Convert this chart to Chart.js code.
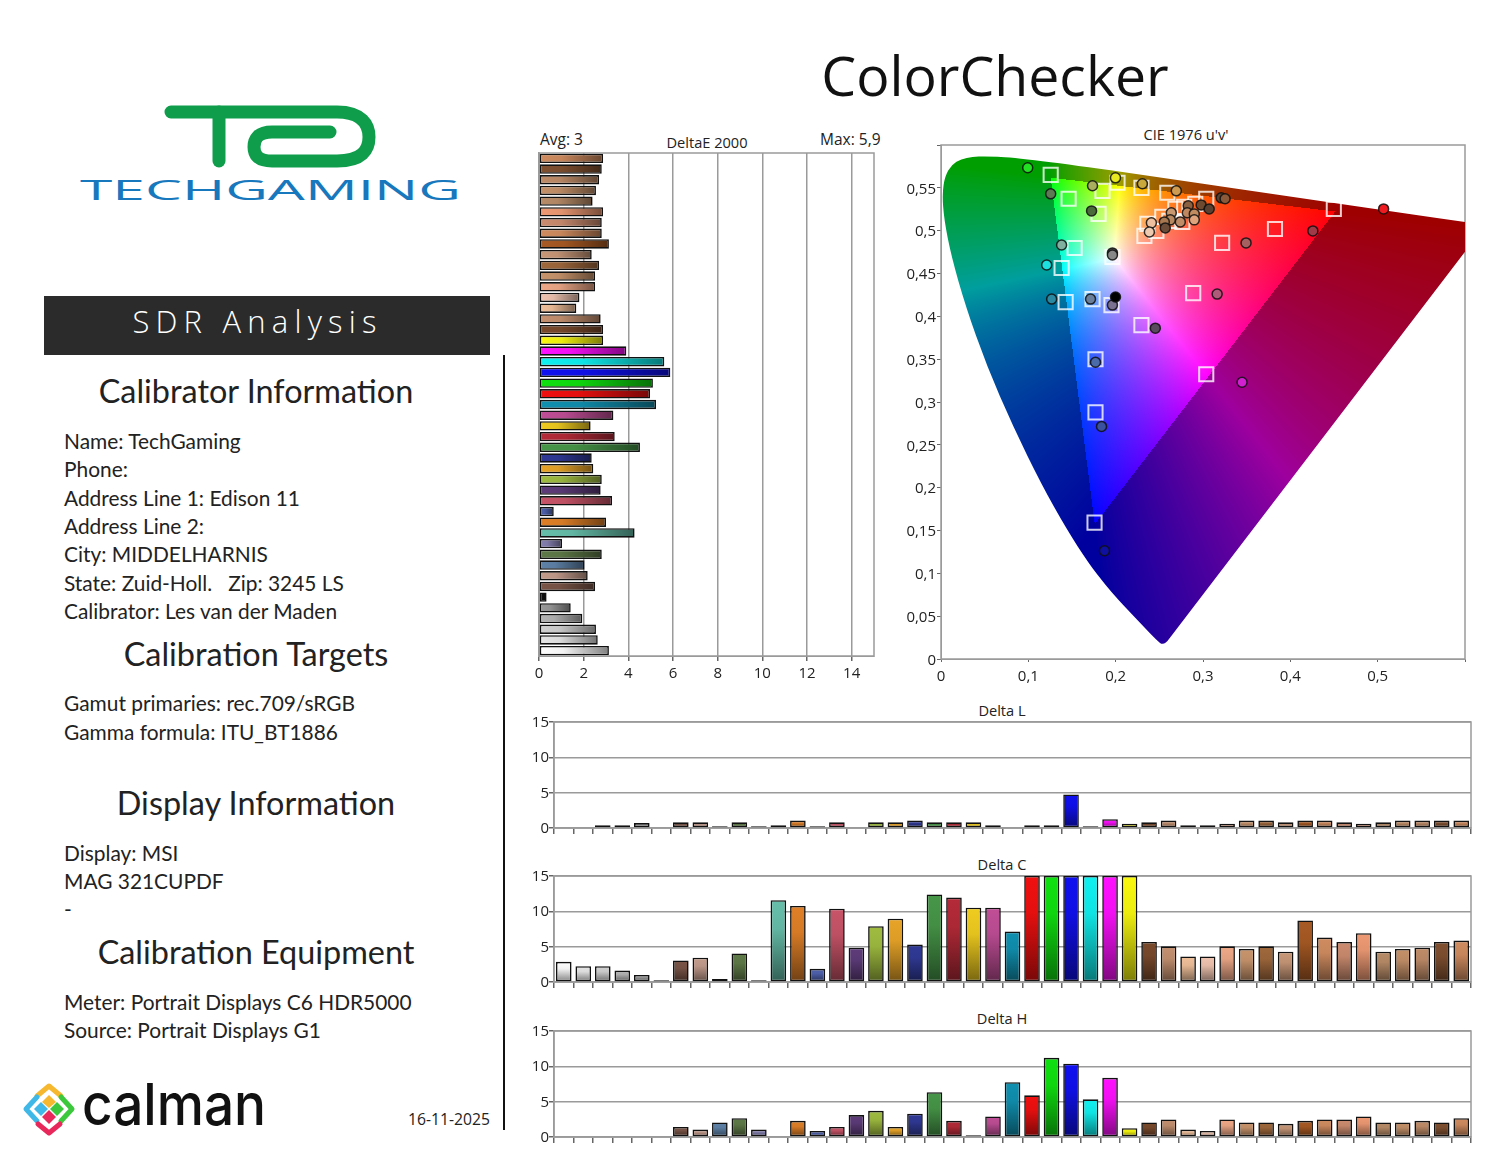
<!DOCTYPE html>
<html>
<head>
  <title>ColorChecker</title>
  <script src="https://cdn.jsdelivr.net/npm/chart.js"></script>
  <style>
    body { margin: 0; background: #fff; }
    #page { position: relative; width: 1500px; height: 1159px; overflow: hidden; color: #222; font-family: 'Open Sans', sans-serif; }
    #page canvas, #page svg { position: absolute; }
    .main { position: absolute; left: 695px; width: 600px; top: 35px; line-height: 80px; text-align: center; font-size: 55.4px; color: #111; }
    .banner { position: absolute; left: 44px; top: 296px; width: 446px; height: 59px; line-height: 51px; background: #2b2b2b; color: #fff; text-align: center; font-size: 31px; font-weight: 300; letter-spacing: 6.2px; text-indent: -19px; }
    .rule { position: absolute; left: 503px; top: 355px; width: 2px; height: 775px; background: #111; }
    .h { position: absolute; left: 0; width: 512px; text-align: center; line-height: 40px; font-family: Lato, sans-serif; font-size: 32.4px; }
    .t { position: absolute; left: 64px; line-height: 28px; font-family: Lato, sans-serif; font-size: 20.9px; white-space: pre; }
    .s { position: absolute; line-height: 20px; font-size: 15.5px; white-space: pre; }
    .ct { position: absolute; width: 200px; line-height: 20px; text-align: center; font-size: 14.6px; }
  </style>
</head>
<body>
<div id="page">
  <div class="main">ColorChecker</div>

  <svg style="left:0;top:90px" width="500" height="125" viewBox="0 90 500 125">
    <g fill="none" stroke="#0f9d4c" stroke-width="13" stroke-linecap="round">
      <path d="M171 112 H337 C362 112 369 125 369 137 C369 150 362 161 337 161 H272 C258 161 254 155 254 147 C254 139 258 132 272 132 H330"/>
      <path d="M219 112 V161"/>
    </g>
    <text x="80" y="200" textLength="381" lengthAdjust="spacingAndGlyphs" font-family="Open Sans" font-size="28" font-weight="500" fill="#1878bd">TECHGAMING</text>
  </svg>

  <div class="banner">SDR Analysis</div>
  <div class="rule"></div>

  <div class="h" style="top:371px">Calibrator Information</div>
  <div class="t" style="top:427px">Name: TechGaming</div>
  <div class="t" style="top:455px">Phone:</div>
  <div class="t" style="top:484px">Address Line 1: Edison 11</div>
  <div class="t" style="top:512px">Address Line 2:</div>
  <div class="t" style="top:540px">City: MIDDELHARNIS</div>
  <div class="t" style="top:569px">State: Zuid-Holl.   Zip: 3245 LS</div>
  <div class="t" style="top:597px">Calibrator: Les van der Maden</div>

  <div class="h" style="top:634px">Calibration Targets</div>
  <div class="t" style="top:689px">Gamut primaries: rec.709/sRGB</div>
  <div class="t" style="top:718px">Gamma formula: ITU_BT1886</div>

  <div class="h" style="top:783px">Display Information</div>
  <div class="t" style="top:839px">Display: MSI</div>
  <div class="t" style="top:867px">MAG 321CUPDF</div>
  <div class="t" style="top:895px">-</div>

  <div class="h" style="top:932px">Calibration Equipment</div>
  <div class="t" style="top:988px">Meter: Portrait Displays C6 HDR5000</div>
  <div class="t" style="top:1016px">Source: Portrait Displays G1</div>

  <svg style="left:20px;top:1080px" width="260" height="60" viewBox="20 1080 260 60">
    <g fill="none" stroke-width="5" stroke-linejoin="round" stroke-linecap="round">
      <path d="M37 1096 L49 1086 L61 1096" stroke="#f5b82e"/>
      <path d="M37 1097 L26 1109 L37 1121" stroke="#3fb8e8"/>
      <path d="M61 1097 L72 1109 L61 1121" stroke="#3cc83c"/>
      <path d="M38 1124 L49 1133 L60 1124" stroke="#e8285a"/>
    </g>
    <path d="M49 1095 L56 1102 L49 1108 L42 1102 Z" fill="#f5b82e"/>
    <path d="M41 1102 L48 1109 L41 1116 L34 1109 Z" fill="#3fb8e8"/>
    <path d="M57 1102 L64 1109 L57 1116 L50 1109 Z" fill="#3cc83c"/>
    <path d="M49 1110 L56 1117 L49 1124 L42 1117 Z" fill="#e8285a"/>
    <text x="82" y="1125" textLength="184" lengthAdjust="spacingAndGlyphs" font-family="Inter" font-size="58" font-weight="500" fill="#111">calman</text>
  </svg>
  <div class="s" style="left:408px;top:1109px;font-size:15.7px">16-11-2025</div>

  <div class="s" style="left:540px;top:129px">Avg: 3</div>
  <div class="s" style="left:820px;top:129px">Max: 5,9</div>
  <div class="ct" style="left:607px;top:132px">DeltaE 2000</div>
  <div class="ct" style="left:1086px;top:124px">CIE 1976 u'v'</div>
  <div class="ct" style="left:902px;top:700px">Delta L</div>
  <div class="ct" style="left:902px;top:854px">Delta C</div>
  <div class="ct" style="left:902px;top:1008px">Delta H</div>

  <canvas id="deltaE" width="374" height="553" style="left:520px;top:133px"></canvas>
  <canvas id="cie" width="582" height="564" style="left:895px;top:125px"></canvas>
  <canvas id="deltaL" width="964" height="136" style="left:520px;top:702px"></canvas>
  <canvas id="deltaC" width="964" height="136" style="left:520px;top:856px"></canvas>
  <canvas id="deltaH" width="964" height="136" style="left:520px;top:1011px"></canvas>
</div>

<script>
  const patches = ['White', 'Gray 80', 'Gray 65', 'Gray 50', 'Gray 35', 'Black',
    'Dark Skin', 'Light Skin', 'Blue Sky', 'Foliage', 'Blue Flower', 'Bluish Green',
    'Orange', 'Purplish Blue', 'Moderate Red', 'Purple', 'Yellow Green', 'Orange Yellow',
    'Blue', 'Green', 'Red', 'Yellow', 'Magenta', 'Cyan',
    '100% Red', '100% Green', '100% Blue', '100% Cyan', '100% Magenta', '100% Yellow',
    'Skin 1', 'Skin 2', 'Skin 3', 'Skin 4', 'Skin 5', 'Skin 6', 'Skin 7', 'Skin 8', 'Skin 9',
    'Skin 10', 'Skin 11', 'Skin 12', 'Skin 13', 'Skin 14', 'Skin 15', 'Skin 16', 'Skin 17'];

  const patchColors = ['#ffffff', '#e6e6e6', '#d2d2d2', '#b4b4b4', '#9a9a9a', '#111111',
    '#7a5548', '#c49c8c', '#5f82a8', '#5f7a48', '#8580b0', '#66bfaa',
    '#e08028', '#4f62ae', '#c85468', '#5e3c7a', '#a0bc40', '#e8a428',
    '#303a96', '#469648', '#b42a38', '#f0cc20', '#c04e96', '#1090b0',
    '#f01010', '#10e010', '#1010f0', '#10f0f0', '#ff10ff', '#f8f810',
    '#7a4a2c', '#c49070', '#f0c09a', '#f0c4b0', '#eea888', '#c8946c', '#a0683c', '#c89878', '#a85a24',
    '#d08c60', '#cc8c70', '#ee9a74', '#b88c68', '#c49068', '#c08c68', '#805030', '#d08c60'];

  const deltaE = [3.13, 2.63, 2.55, 1.94, 1.42, 0.34, 2.51, 2.18, 2.04, 2.81, 1.03, 4.28,
    3.0, 0.66, 3.27, 2.76, 2.81, 2.43, 2.36, 4.52, 3.39, 2.31, 3.33, 5.24,
    4.97, 5.1, 5.88, 5.61, 3.91, 2.87,
    2.87, 2.76, 1.67, 1.81, 2.51, 2.51, 2.69, 2.36, 3.13, 2.81, 2.81, 2.87, 2.4, 2.55, 2.69, 2.81, 2.87];

  const deltaLValues = [0, 0, 0.4, 0.4, 0.7, 0, 0.8, 0.8, 0.25, 0.8, 0.25, 0.4,
    1.05, 0.25, 0.8, 0, 0.8, 0.8, 1.05, 0.8, 0.8, 0.8, 0.4, 0,
    0.4, 0.4, 4.75, 0.25, 1.25, 0.6,
    0.8, 1.05, 0.4, 0.4, 0.6, 1.05, 1.05, 0.8, 1.05, 1.05, 0.8, 0.6, 0.8, 1.05, 1.05, 1.05, 1.05];

  const deltaCValues = [2.86, 2.24, 2.24, 1.62, 1.0, 0.25, 3.05, 3.43, 0.43, 4.05, 0.25, 11.57,
    10.76, 1.86, 10.38, 4.86, 7.9, 8.95, 5.29, 12.38, 11.95, 10.52, 10.52, 7.14,
    15, 15, 15, 15, 15, 15,
    5.67, 5.05, 3.62, 3.62, 5.05, 4.67, 5.05, 4.29, 8.71, 6.29, 5.67, 6.9, 4.29, 4.67, 4.86, 5.67, 5.86];

  const deltaHValues = [0, 0, 0, 0, 0, 0, 1.43, 1.05, 2.05, 2.67, 1.05, 0,
    2.29, 0.86, 1.43, 3.1, 3.7, 1.43, 3.29, 6.33, 2.29, 0.24, 2.9, 7.76,
    5.9, 11.2, 10.38, 5.33, 8.38, 1.24,
    2.05, 2.48, 1.05, 0.86, 2.48, 2.05, 2.05, 1.86, 2.29, 2.48, 2.48, 2.9, 2.05, 2.05, 2.29, 2.05, 2.67];

  // spectral locus, u' and v'
  const locusU = [0.2615, 0.2555, 0.2461, 0.2347, 0.2161, 0.2033, 0.1877, 0.1690, 0.1441, 0.1147, 0.0828, 0.0521, 0.0282, 0.0119, 0.0035, 0.0014,
    0.0046, 0.0123, 0.0231, 0.0360, 0.0501, 0.0792, 0.1531, 0.2623, 0.4035, 0.5203, 0.6234];
  const locusV = [0.0240, 0.0150, 0.0226, 0.0350, 0.0549, 0.0688, 0.0871, 0.1119, 0.1510, 0.2044, 0.2708, 0.3427, 0.4117, 0.4698, 0.5131, 0.5432,
    0.5638, 0.5770, 0.5837, 0.5861, 0.5868, 0.5856, 0.5766, 0.5604, 0.5393, 0.5219, 0.5065];

  const targetU = [0.1256, 0.1461, 0.1849, 0.2021, 0.2295, 0.2591, 0.3037, 0.1804, 0.1530, 0.1381, 0.1427, 0.1735,
    0.1952, 0.2295, 0.1769, 0.1769, 0.1758, 0.2888, 0.3219, 0.3824, 0.4498, 0.3037, 0.1963, 0.2329,
    0.2363, 0.2466, 0.2534, 0.2683, 0.2785, 0.2763, 0.2614, 0.2911];
  const targetV = [0.5652, 0.5372, 0.5465, 0.5559, 0.5500, 0.5442, 0.5372, 0.5196, 0.4798, 0.4564, 0.4166, 0.4201,
    0.4131, 0.3897, 0.3499, 0.2879, 0.1592, 0.4271, 0.4857, 0.5020, 0.5254, 0.3324, 0.4693, 0.4939,
    0.5079, 0.4997, 0.5161, 0.5254, 0.5278, 0.5102, 0.5114, 0.5313];

  const measuredU = [0.0993, 0.1256, 0.1735, 0.1998, 0.2306, 0.2694, 0.1724, 0.1381, 0.1210, 0.1267, 0.1712, 0.1963,
    0.1963, 0.1963, 0.2454, 0.3162, 0.3493, 0.4258, 0.5068, 0.3447, 0.1769, 0.1838, 0.1872,
    0.3208, 0.3253, 0.2979, 0.3071, 0.2831, 0.2820, 0.2900, 0.2900, 0.2740, 0.2637, 0.2626, 0.2557, 0.2568, 0.2409, 0.2386, 0.1998];
  const measuredV = [0.5734, 0.5430, 0.5524, 0.5617, 0.5547, 0.5465, 0.5231, 0.4833, 0.4599, 0.4201, 0.4201, 0.4131,
    0.4740, 0.4716, 0.3862, 0.4260, 0.4857, 0.4997, 0.5254, 0.3230, 0.3464, 0.2715, 0.1264,
    0.5383, 0.5372, 0.5301, 0.5254, 0.5290, 0.5208, 0.5196, 0.5126, 0.5102, 0.5208, 0.5126, 0.5102, 0.5032, 0.5091, 0.4985, 0.4225];
  const measuredColors = ['#22e022', '#5d7a55', '#a9ae5e', '#e8e820', '#c9a83c', '#cf9b50', '#4a6a3c', '#7fb0a0', '#1ce0e0', '#2a88a0', '#6a7f9a', '#7a7090',
    '#555555', '#888888', '#5a4a60', '#b05a7a', '#a66060', '#a03a48', '#ee1c20', '#d020d0', '#4a6aa8', '#3a50a0', '#1010a0',
    '#5a4030', '#8a5a3a', '#6e4a30', '#5a4030', '#8a6040', '#c08860', '#c08c60', '#e0a47c', '#c08c68', '#c89870', '#b88860', '#a87850', '#6a4c38', '#eec0a0', '#eecab0', '#000000'];

  const lineGray = '#9a9a9a';
  const tickGray = '#666666';

  Chart.defaults.font.family = "'Open Sans', sans-serif";
  Chart.defaults.font.size = 15;
  Chart.defaults.color = '#222';
  Chart.defaults.animation = false;
  Chart.defaults.responsive = false;

  // grey box round the plot
  const plotFrame = {
    id: 'plotFrame',
    beforeDatasetsDraw(chart) {
      const a = chart.chartArea, c = chart.ctx;
      c.save();
      c.strokeStyle = lineGray;
      c.lineWidth = 1.5;
      c.strokeRect(a.left, a.top, a.width, a.height);
      c.restore();
    }
  };

  function shade(hex, k) {
    const n = parseInt(hex.slice(1), 16);
    return 'rgb(' + Math.round((n >> 16) * k) + ',' + Math.round(((n >> 8) & 255) * k) + ',' + Math.round((n & 255) * k) + ')';
  }

  // each bar runs from its own colour to a darker one
  function barFill(c) {
    const hex = patchColors[c.dataIndex];
    if (!c.parsed || !c.chart.chartArea) return hex || '#888';
    const horizontal = c.chart.options.indexAxis === 'y';
    const ctx = c.chart.ctx;
    let g;
    if (horizontal) {
      const s = c.chart.scales.x;
      g = ctx.createLinearGradient(s.getPixelForValue(0), 0, s.getPixelForValue(c.parsed.x), 0);
    } else {
      const s = c.chart.scales.y;
      g = ctx.createLinearGradient(0, s.getPixelForValue(c.parsed.y), 0, s.getPixelForValue(0));
    }
    g.addColorStop(0, shade(hex, 1));
    g.addColorStop(0.35, shade(hex, 0.95));
    g.addColorStop(1, shade(hex, 0.5));
    return g;
  }

  function zeroless(c) {
    return c.raw === 0 ? 0 : 1.6;
  }

  function commaTick(v) {
    if (v > 0.59) return '';
    return String(Math.round(v * 100) / 100).replace('.', ',');
  }

  new Chart(document.getElementById('deltaE'), {
    type: 'bar',
    data: {
      labels: patches,
      datasets: [{
        data: deltaE,
        backgroundColor: barFill,
        borderColor: '#111111',
        borderWidth: zeroless,
        borderSkipped: false,
        barPercentage: 0.88,
        categoryPercentage: 1
      }]
    },
    options: {
      indexAxis: 'y',
      layout: { padding: { top: 20, right: 20 } },
      plugins: {
        legend: { display: false },
        tooltip: { enabled: false }
      },
      scales: {
        x: {
          min: 0, max: 15,
          ticks: { stepSize: 2, includeBounds: false, padding: 4, maxRotation: 0 },
          grid: { color: lineGray, lineWidth: 1.5, tickColor: tickGray, tickLength: 5 },
          border: { color: lineGray },
          afterFit(s) { s.height = 30; }
        },
        y: {
          reverse: true,
          ticks: { display: false },
          grid: { display: false },
          border: { color: lineGray, width: 1.5 },
          afterFit(s) { s.width = 19; }
        }
      }
    },
    plugins: [plotFrame]
  });

  function makeDeltaChart(id, values) {
    return new Chart(document.getElementById(id), {
      type: 'bar',
      data: {
        labels: patches,
        datasets: [{
          data: values,
          backgroundColor: barFill,
          borderColor: '#111111',
          borderWidth: zeroless,
          borderSkipped: false,
          barPercentage: 0.8,
          categoryPercentage: 1
        }]
      },
      options: {
        layout: { padding: { top: 20, right: 13 } },
        plugins: {
          legend: { display: false },
          tooltip: { enabled: false }
        },
        scales: {
          x: {
            ticks: { display: false },
            grid: { drawOnChartArea: false, tickColor: tickGray, tickLength: 6, lineWidth: 1.5 },
            border: { color: lineGray, width: 1.5 },
            afterFit(s) { s.height = 10; }
          },
          y: {
            min: 0, max: 15,
            ticks: { stepSize: 5, padding: 0, labelOffset: 0.7 },
            grid: { color: lineGray, lineWidth: 1.5, tickColor: tickGray, tickLength: 5 },
            border: { color: lineGray, width: 1.5 },
            afterFit(s) { s.width = 34; }
          }
        }
      },
      plugins: [plotFrame]
    });
  }

  makeDeltaChart('deltaL', deltaLValues);
  makeDeltaChart('deltaC', deltaCValues);
  makeDeltaChart('deltaH', deltaHValues);

  // u'v' position to display colour; outside the rec.709 triangle it is clamped and dimmed
  function uvColor(u, v) {
    const d = 6 * u - 16 * v + 12;
    const x = 9 * u / d, y = 4 * v / d;
    if (y <= 0) return [255, 255, 255];
    const X = x / y, Z = (1 - x - y) / y;
    const lin = [3.2406 * X - 1.5372 - 0.4986 * Z, -0.9689 * X + 1.8758 + 0.0415 * Z, 0.0557 * X - 0.2040 + 1.0570 * Z];
    const outside = Math.min(lin[0], lin[1], lin[2]) < 0;
    const c = lin.map(a => Math.max(a, 0));
    const m = Math.max(c[0], c[1], c[2]) || 1;
    const k = outside ? 0.62 : 1;
    return c.map(a => 255 * k * Math.pow(a / m, 1 / 1.25));
  }

  const horseshoe = {
    id: 'horseshoe',
    beforeDatasetsDraw(chart) {
      const a = chart.chartArea, sx = chart.scales.x, sy = chart.scales.y, c = chart.ctx;
      const w = Math.ceil(a.width), h = Math.ceil(a.height);
      const off = document.createElement('canvas');
      off.width = w; off.height = h;
      const octx = off.getContext('2d');
      const img = octx.createImageData(w, h);
      for (let py = 0; py < h; py++) {
        const v = sy.getValueForPixel(a.top + py);
        for (let px = 0; px < w; px++) {
          const rgb = uvColor(sx.getValueForPixel(a.left + px), v);
          const i = (py * w + px) * 4;
          img.data[i] = rgb[0]; img.data[i + 1] = rgb[1]; img.data[i + 2] = rgb[2]; img.data[i + 3] = 255;
        }
      }
      octx.putImageData(img, 0, 0);
      const pts = locusU.map((u, i) => [sx.getPixelForValue(u), sy.getPixelForValue(locusV[i])]);
      c.save();
      c.beginPath();
      c.rect(a.left, a.top, a.width, a.height);
      c.clip();
      c.beginPath();
      c.moveTo(pts[0][0], pts[0][1]);
      for (let i = 1; i < pts.length - 1; i++) {
        c.quadraticCurveTo(pts[i][0], pts[i][1], (pts[i][0] + pts[i + 1][0]) / 2, (pts[i][1] + pts[i + 1][1]) / 2);
      }
      c.lineTo(pts[pts.length - 1][0], pts[pts.length - 1][1]);
      c.closePath();
      c.clip();
      c.drawImage(off, a.left, a.top);
      c.restore();
    }
  };

  new Chart(document.getElementById('cie'), {
    type: 'scatter',
    data: {
      datasets: [
        {
          data: measuredU.map((u, i) => ({ x: u, y: measuredV[i] })),
          pointStyle: 'circle',
          radius: 5,
          borderColor: 'rgba(15,15,15,0.85)',
          borderWidth: 1.5,
          backgroundColor: measuredColors
        },
        {
          data: targetU.map((u, i) => ({ x: u, y: targetV[i] })),
          pointStyle: 'rect',
          radius: 10,
          borderColor: 'rgba(255,255,255,0.8)',
          borderWidth: 2,
          backgroundColor: 'transparent'
        }
      ]
    },
    options: {
      layout: { padding: { top: 20, right: 10 } },
      plugins: {
        legend: { display: false },
        tooltip: { enabled: false }
      },
      scales: {
        x: {
          min: 0, max: 0.6,
          ticks: { stepSize: 0.1, padding: 6, maxRotation: 0, callback: commaTick },
          grid: { drawOnChartArea: false, tickColor: tickGray, tickLength: 3 },
          border: { color: lineGray },
          afterFit(s) { s.height = 30; }
        },
        y: {
          min: 0, max: 0.6,
          ticks: { stepSize: 0.05, padding: 1, labelOffset: 1.5, callback: commaTick },
          grid: { drawOnChartArea: false, tickColor: tickGray, tickLength: 4 },
          border: { color: lineGray },
          afterFit(s) { s.width = 46; }
        }
      }
    },
    plugins: [plotFrame, horseshoe]
  });
</script>
</body>
</html>
